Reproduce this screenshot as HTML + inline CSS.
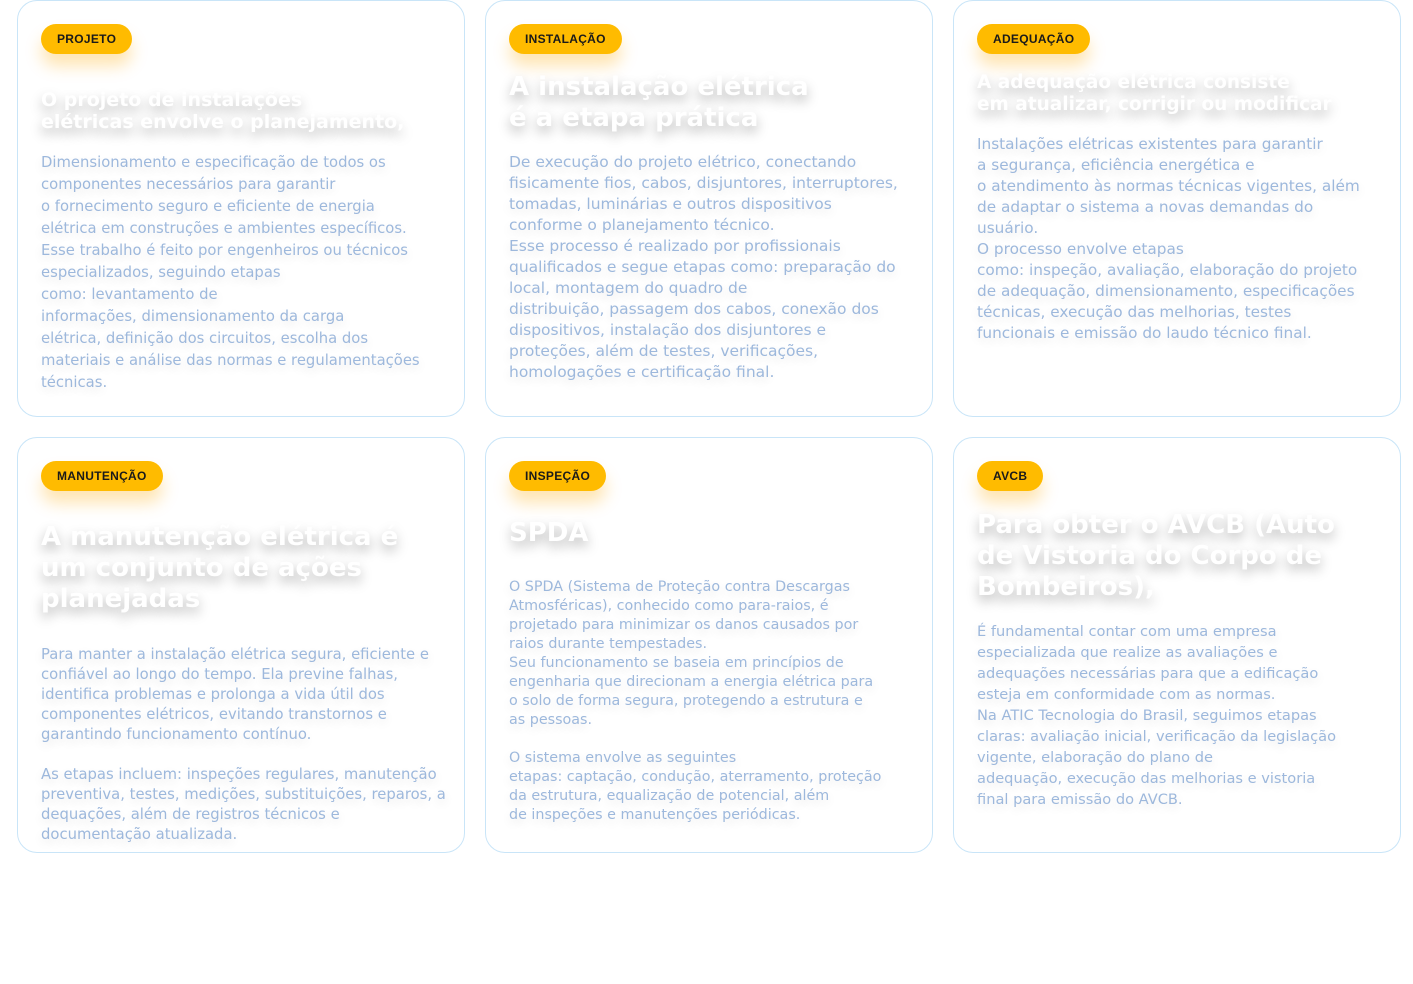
<!DOCTYPE html>
<html><head><meta charset="utf-8"><style>
*{margin:0;padding:0;box-sizing:border-box}
body{width:1413px;height:984px;background:#fff;position:relative;overflow:hidden;font-family:"DejaVu Sans","Liberation Sans",sans-serif}
.card{position:absolute;width:448px;height:417px;border:1px solid #c9e5f8;border-radius:20px;background:#fff}
.badge{position:absolute;left:23px;top:23px;height:30px;padding:0 16px;border-radius:15px;background:#ffbb00;color:#1a1a1a;font:bold 12px/30px "Liberation Sans",sans-serif;letter-spacing:.3px;box-shadow:0 12px 16px rgba(255,170,0,.3)}
.t{position:absolute;left:23px;color:#fff;font-weight:bold;white-space:nowrap;text-shadow:0 6px 12px rgba(0,0,0,.28)}
.b{position:absolute;left:23px;color:#9db8dc;white-space:nowrap;text-shadow:0 4px 10px rgba(0,0,0,.12)}
</style></head><body>

<div class="card" style="left:17px;top:0">
<div class="badge">PROJETO</div>
<div class="t" style="top:88px;font-size:19px;line-height:22px">O projeto de instalações<br>elétricas envolve o planejamento,</div>
<div class="b" style="top:151px;font-size:14.8px;line-height:22px">Dimensionamento e especificação de todos os<br>componentes necessários para garantir<br>o fornecimento seguro e eficiente de energia<br>elétrica em construções e ambientes específicos.<br>Esse trabalho é feito por engenheiros ou técnicos<br>especializados, seguindo etapas<br>como: levantamento de<br>informações, dimensionamento da carga<br>elétrica, definição dos circuitos, escolha dos<br>materiais e análise das normas e regulamentações<br>técnicas.</div>
</div>

<div class="card" style="left:485px;top:0">
<div class="badge">INSTALAÇÃO</div>
<div class="t" style="top:71px;font-size:26px;line-height:31px">A instalação elétrica<br>é a etapa prática</div>
<div class="b" style="top:151px;font-size:15.5px;line-height:21px">De execução do projeto elétrico, conectando<br>fisicamente fios, cabos, disjuntores, interruptores,<br>tomadas, luminárias e outros dispositivos<br>conforme o planejamento técnico.<br>Esse processo é realizado por profissionais<br>qualificados e segue etapas como: preparação do<br>local, montagem do quadro de<br>distribuição, passagem dos cabos, conexão dos<br>dispositivos, instalação dos disjuntores e<br>proteções, além de testes, verificações,<br>homologações e certificação final.</div>
</div>

<div class="card" style="left:953px;top:0">
<div class="badge">ADEQUAÇÃO</div>
<div class="t" style="top:71px;font-size:18.5px;line-height:22px">A adequação elétrica consiste<br>em atualizar, corrigir ou modificar</div>
<div class="b" style="top:133px;font-size:15.3px;line-height:21px">Instalações elétricas existentes para garantir<br>a segurança, eficiência energética e<br>o atendimento às normas técnicas vigentes, além<br>de adaptar o sistema a novas demandas do<br>usuário.<br>O processo envolve etapas<br>como: inspeção, avaliação, elaboração do projeto<br>de adequação, dimensionamento, especificações<br>técnicas, execução das melhorias, testes<br>funcionais e emissão do laudo técnico final.</div>
</div>

<div class="card" style="left:17px;top:437px;height:416px">
<div class="badge">MANUTENÇÃO</div>
<div class="t" style="top:84px;font-size:26px;line-height:31px">A manutenção elétrica é<br>um conjunto de ações<br>planejadas</div>
<div class="b" style="top:207px;font-size:14.8px;line-height:20px">Para manter a instalação elétrica segura, eficiente e<br>confiável ao longo do tempo. Ela previne falhas,<br>identifica problemas e prolonga a vida útil dos<br>componentes elétricos, evitando transtornos e<br>garantindo funcionamento contínuo.<br><br>As etapas incluem: inspeções regulares, manutenção<br>preventiva, testes, medições, substituições, reparos, a<br>dequações, além de registros técnicos e<br>documentação atualizada.</div>
</div>

<div class="card" style="left:485px;top:437px;height:416px">
<div class="badge">INSPEÇÃO</div>
<div class="t" style="top:80px;font-size:26px;line-height:31px">SPDA</div>
<div class="b" style="top:140px;font-size:14.3px;line-height:19px">O SPDA (Sistema de Proteção contra Descargas<br>Atmosféricas), conhecido como para-raios, é<br>projetado para minimizar os danos causados por<br>raios durante tempestades.<br>Seu funcionamento se baseia em princípios de<br>engenharia que direcionam a energia elétrica para<br>o solo de forma segura, protegendo a estrutura e<br>as pessoas.<br><br>O sistema envolve as seguintes<br>etapas: captação, condução, aterramento, proteção<br>da estrutura, equalização de potencial, além<br>de inspeções e manutenções periódicas.</div>
</div>

<div class="card" style="left:953px;top:437px;height:416px">
<div class="badge">AVCB</div>
<div class="t" style="top:72px;font-size:26px;line-height:31px">Para obter o AVCB (Auto<br>de Vistoria do Corpo de<br>Bombeiros),</div>
<div class="b" style="top:183px;font-size:14.6px;line-height:21px">É fundamental contar com uma empresa<br>especializada que realize as avaliações e<br>adequações necessárias para que a edificação<br>esteja em conformidade com as normas.<br>Na ATIC Tecnologia do Brasil, seguimos etapas<br>claras: avaliação inicial, verificação da legislação<br>vigente, elaboração do plano de<br>adequação, execução das melhorias e vistoria<br>final para emissão do AVCB.</div>
</div>

</body></html>
